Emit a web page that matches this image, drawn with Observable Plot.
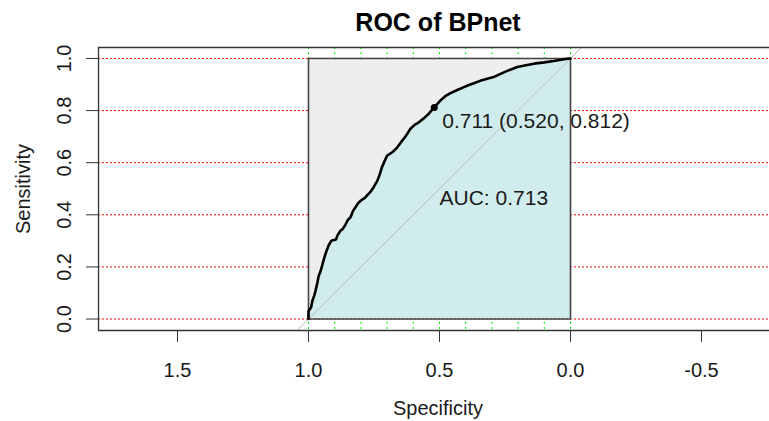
<!DOCTYPE html>
<html>
<head>
<meta charset="utf-8">
<script src="https://cdn.jsdelivr.net/npm/d3@7"></script>
<script src="https://cdn.jsdelivr.net/npm/@observablehq/plot@0.6"></script>
<style>
  html, body { margin: 0; padding: 0; background: #fff; overflow: hidden; }
</style>
</head>
<body>
<div id="chart"></div>
<script>
// ROC curve (specificity, sensitivity)
const rocSpec = [1.0, 1.0, 0.99, 0.985, 0.978, 0.973, 0.966, 0.961, 0.955, 0.948, 0.94, 0.931, 0.922, 0.913, 0.895, 0.89, 0.878, 0.87, 0.86, 0.850, 0.840, 0.83, 0.82, 0.81, 0.80, 0.785, 0.771, 0.762, 0.752, 0.737, 0.728, 0.72, 0.71, 0.70, 0.68, 0.661, 0.642, 0.63, 0.611, 0.595, 0.579, 0.56, 0.541, 0.52, 0.496, 0.478, 0.458, 0.43, 0.407, 0.39, 0.369, 0.345, 0.318, 0.29, 0.267, 0.235, 0.203, 0.17, 0.14, 0.10, 0.064, 0.035, 0.013, 0.0];
const rocSens = [0.0, 0.03, 0.045, 0.07, 0.09, 0.109, 0.14, 0.166, 0.18, 0.205, 0.235, 0.262, 0.285, 0.30, 0.305, 0.32, 0.339, 0.345, 0.36, 0.38, 0.39, 0.415, 0.43, 0.445, 0.455, 0.465, 0.48, 0.49, 0.505, 0.531, 0.555, 0.582, 0.605, 0.627, 0.64, 0.659, 0.685, 0.70, 0.73, 0.745, 0.755, 0.77, 0.788, 0.812, 0.839, 0.855, 0.867, 0.88, 0.89, 0.897, 0.905, 0.914, 0.922, 0.93, 0.941, 0.955, 0.967, 0.974, 0.98, 0.985, 0.99, 0.995, 0.999, 1.0];

// best threshold
const thresValue = 0.711;
const thresSpec = 0.520;
const thresSens = 0.812;
const aucValue = 0.713;

// max AUC square and chance diagonal
const maxAucSpec = [1, 0];
const maxAucSens = [0, 1];
const diagSpec = [1.1, -0.1];
const diagSens = [-0.1, 1.1];

// axes / grid
const xTicks = [1.5, 1.0, 0.5, 0.0, -0.5];
const yTicks = [0.0, 0.2, 0.4, 0.6, 0.8, 1.0];
const xGrid = [0, 0.1, 0.2, 0.3, 0.4, 0.5, 0.6, 0.7, 0.8, 0.9, 1.0];
const yGrid = [0, 0.2, 0.4, 0.6, 0.8, 1.0];
const xDomain = [1.8015, -0.7595];
const yDomain = [-0.044, 1.042];

const title = "ROC of BPnet";
const xLabel = "Specificity";
const yLabel = "Sensitivity";

const roc = rocSpec.map((s, i) => ({spec: s, sens: rocSens[i]}));
const square = [{x1: maxAucSpec[0], x2: maxAucSpec[1], y1: maxAucSens[0], y2: maxAucSens[1]}];
const diag = diagSpec.map((s, i) => ({spec: s, sens: diagSens[i]}));
const thres = [{spec: thresSpec, sens: thresSens,
  label: `${thresValue.toFixed(3)} (${thresSpec.toFixed(3)}, ${thresSens.toFixed(3)})`}];
const aucLabel = [{spec: 0.5, sens: 0.5, label: `AUC: ${aucValue.toFixed(3)}`}];

const font = "'Liberation Sans', Arial, Helvetica, sans-serif";

const chart = Plot.plot({
  width: 769,
  height: 421,
  marginLeft: 98,
  marginRight: 0,
  marginTop: 47,
  marginBottom: 91,
  style: {fontFamily: font, fontSize: "20px", background: "#fff", color: "#1a1a1a"},
  x: {domain: xDomain},
  y: {domain: yDomain},
  marks: [
    // grid
    Plot.ruleY(yGrid, {stroke: "#FF0000", strokeWidth: 1, strokeDasharray: "2,2"}),
    Plot.ruleX(xGrid, {stroke: "#00EE00", strokeWidth: 1, strokeDasharray: "2,3"}),
    // max AUC square
    Plot.rect(square, {x1: "x1", x2: "x2", y1: "y1", y2: "y2", fill: "#EEEEEE"}),
    // AUC polygon
    Plot.areaY(roc, {x: "spec", y: "sens", fill: "#D1ECEC"}),
    Plot.line(maxAucSpec.flatMap(s => []).concat([
      {spec: maxAucSpec[0], sens: maxAucSens[0]}, {spec: maxAucSpec[0], sens: maxAucSens[1]},
      {spec: maxAucSpec[1], sens: maxAucSens[1]}, {spec: maxAucSpec[1], sens: maxAucSens[0]},
      {spec: maxAucSpec[0], sens: maxAucSens[0]}]), {x: "spec", y: "sens", stroke: "#444", strokeWidth: 1.6}),
    // diagonal
    Plot.line(diag, {x: "spec", y: "sens", stroke: "#B8B8B8", strokeWidth: 1, clip: true}),
    // ROC curve
    Plot.line(roc, {x: "spec", y: "sens", stroke: "#000", strokeWidth: 2.6, strokeLinejoin: "miter"}),
    Plot.dot(thres, {x: "spec", y: "sens", r: 3.5, fill: "#000"}),
    Plot.text(thres, {x: "spec", y: "sens", text: "label", textAnchor: "start", lineAnchor: "top", dx: 8, dy: 6, fontSize: 21, fill: "#1a1a1a"}),
    Plot.text(aucLabel, {x: "spec", y: "sens", text: "label", textAnchor: "start", lineAnchor: "top", dy: 1, fontSize: 21, fill: "#1a1a1a"}),
    // box
    Plot.ruleY([yDomain[1], yDomain[0]], {stroke: "#333", strokeWidth: 1.3}),
    Plot.ruleX([xDomain[0]], {stroke: "#333", strokeWidth: 1.3}),
    // axes
    Plot.axisX({ticks: xTicks, tickSize: 12, tickPadding: 20, tickFormat: d => d.toFixed(1), fontSize: 20, label: null, stroke: "#333"}),
    Plot.axisY({ticks: yTicks, tickSize: 12, tickFormat: () => "", label: null, stroke: "#333"}),
    Plot.text(yTicks, {y: d => d, text: d => d.toFixed(1), frameAnchor: "left", dx: -28, rotate: -90, lineAnchor: "bottom", textAnchor: "middle", fontSize: 20, fill: "#1a1a1a"}),
    // titles
    Plot.text([title], {frameAnchor: "top", dx: 4, dy: -17, lineAnchor: "bottom", fontSize: 25, fontWeight: "bold", fill: "#000"}),
    Plot.text([xLabel], {frameAnchor: "bottom", dx: 4, dy: 70, lineAnchor: "top", fontSize: 20, fill: "#1a1a1a"}),
    Plot.text([yLabel], {frameAnchor: "left", dx: -69, rotate: -90, lineAnchor: "bottom", textAnchor: "middle", fontSize: 20, fill: "#1a1a1a"})
  ]
});
document.getElementById("chart").appendChild(chart);
</script>
</body>
</html>
